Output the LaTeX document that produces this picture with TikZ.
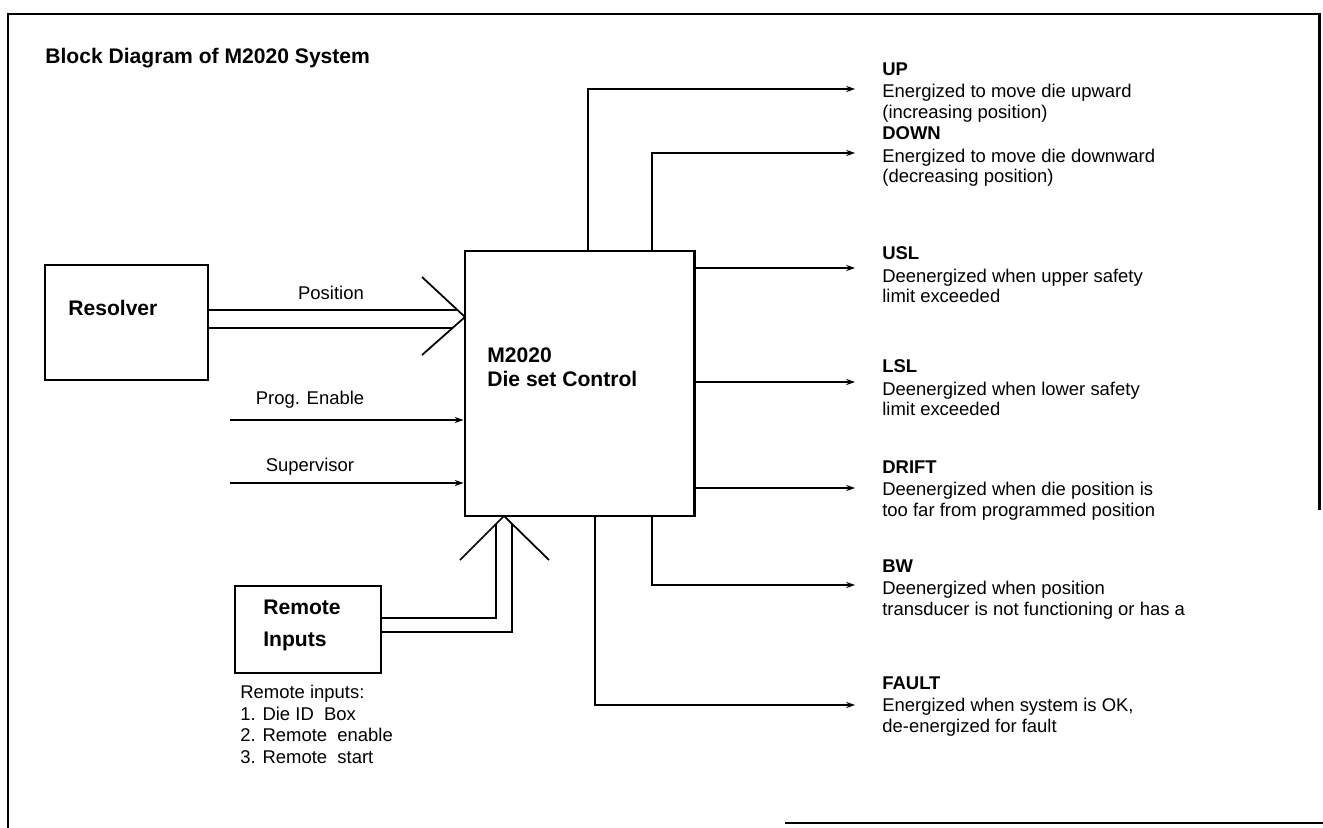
\documentclass[tikz,border=0pt]{standalone}
\usepackage{fontspec}
\setmainfont{Liberation Sans}
\usetikzlibrary{arrows.meta,positioning}

\begin{document}
\begin{tikzpicture}[x=0.2mm,y=-0.2mm,
  blk/.style={draw,line width=1.7pt,inner sep=0pt},
  boxtxt/.style={font=\bfseries\fontsize{12}{14}\selectfont,align=left,inner sep=0pt},
  sig/.style={line width=0.8pt,-{Stealth[length=5pt,width=3.5pt]}},
  bus/.style={line width=0.9pt},
  vee/.style={line width=1pt},
  note/.style={font=\fontsize{10.5}{12.2}\selectfont,align=left,inner sep=0pt},
  outtxt/.style={note,font=\fontsize{10.5}{11.5}\selectfont,anchor=north west}]
\useasboundingbox (0,0) rectangle (1323,828);
% frame
\draw[line width=1.7pt] (8,828)--(8,14)--(1319,14)--(1319,510);
\draw[line width=1.7pt] (785,823)--(1323,823);
\node[font=\bfseries\fontsize{12}{14}\selectfont,anchor=west,inner sep=0pt] (title) at (45,58) {Block Diagram of M2020 System};

% blocks
\node[blk,minimum width=32.6mm,minimum height=23mm] (res) at (126.5,322.5) {};
\node[boxtxt,anchor=west] (restxt) at (68,308) {Resolver};
\node[blk,minimum width=45.8mm,minimum height=53mm] (ctl) at (579.5,383.5) {};
\node[boxtxt,anchor=north west] (ctltxt) at (487,347) {M2020\\Die set Control};
\node[blk,minimum width=29.2mm,minimum height=17.4mm] (rem) at (308,629.5) {};
\node[boxtxt,anchor=north west,font=\bfseries\fontsize{12}{18}\selectfont] (remtxt) at (263,600) {Remote\\Inputs};
\node[note,anchor=north west] (remnote) at (240,685) {Remote inputs:\\1. Die ID~ Box\\2. Remote~ enable\\3. Remote~ start};

% inputs
\coordinate (ptip) at (465,317);
\draw[bus] (res.east |- 0,310) -- (457,310);
\draw[bus] (res.east |- 0,328) -- (453,328);
\draw[vee] (422,277) -- (ptip) -- (422,355);
\node[note] (poslbl) at (331,293) {Position};

\coordinate (pe) at (230,420);
\draw[sig] (pe) -- (pe -| ctl.west);
\node[note] (pelbl) at (310,400) {Prog. Enable};
\coordinate (sv) at (230,483);
\draw[sig] (sv) -- (sv -| ctl.west);
\node[note] (svlbl) at (310,467) {Supervisor};

\coordinate (rtip) at (504,516);
\draw[bus] (rem.east |- 0,618) -- (496,618) -- (496,524);
\draw[bus] (rem.east |- 0,632) -- (512,632) -- (512,524);
\draw[vee] (460,560) -- (rtip) -- (549,560);

% outputs
\coordinate (upx) at (588,89);  \coordinate (uptip) at (855,89);
\coordinate (dnx) at (652,153); \coordinate (dntip) at (855,153);
\coordinate (usltip) at (855,268);
\coordinate (lsltip) at (855,382);
\coordinate (drtip) at (855,488);
\coordinate (bwx) at (652,585); \coordinate (bwtip) at (855,585);
\coordinate (ftx) at (595,705); \coordinate (fttip) at (855,705);
\draw[sig] (ctl.north -| upx) |- (uptip);
\draw[sig] (ctl.north -| dnx) |- (dntip);
\draw[sig] (ctl.east |- usltip) -- (usltip);
\draw[sig] (ctl.east |- lsltip) -- (lsltip);
\draw[sig] (ctl.east |- drtip) -- (drtip);
\draw[sig] (ctl.south -| bwx) |- (bwtip);
\draw[sig] (ctl.south -| ftx) |- (fttip);

\node[outtxt] (uptxt) at (882,62) {\textbf{UP}\\[1.5pt]Energized to move die upward\\(increasing position)};
\node[outtxt] (dntxt) at (882,126) {\textbf{DOWN}\\[1.5pt]Energized to move die downward\\(decreasing position)};
\node[outtxt] (usltxt) at (882,246) {\textbf{USL}\\[1.5pt]Deenergized when upper safety\\limit exceeded};
\node[outtxt] (lsltxt) at (882,359) {\textbf{LSL}\\[1.5pt]Deenergized when lower safety\\limit exceeded};
\node[outtxt] (drtxt) at (882,460) {\textbf{DRIFT}\\[1.5pt]Deenergized when die position is\\too far from programmed position};
\node[outtxt] (bwtxt) at (882,559) {\textbf{BW}\\[1.5pt]Deenergized when position\\transducer is not functioning or has a};
\node[outtxt] (fttxt) at (882,676) {\textbf{FAULT}\\[1.5pt]Energized when system is OK,\\de-energized for fault};
\end{tikzpicture}
\end{document}
